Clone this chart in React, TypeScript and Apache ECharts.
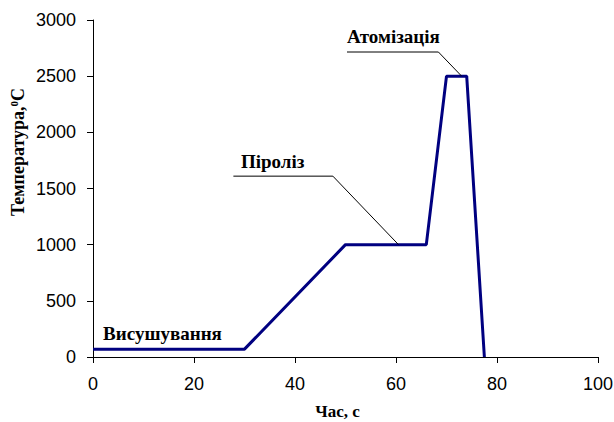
import React, { useEffect, useRef } from "react";
import * as echarts from "echarts";

const timeValues = [0, 30, 50, 66, 70, 74, 77.5];
const tempValues = [70, 70, 1000, 1000, 2500, 2500, 0];
const xTicks = [0, 20, 40, 60, 80, 100];
const yTicks = [0, 500, 1000, 1500, 2000, 2500, 3000];
const pyrolysisLeader = [[27.8, 1610], [47.5, 1610], [60.5, 1000]];
const atomLeader = [[50.3, 2715], [68.4, 2715], [73, 2500]];
const stageNames = ["Висушування", "Піроліз", "Атомізація"];
const stageAnchors = [[2, 205], [29.3, 1740], [50.3, 2850]];

export default function App() {
  const ref = useRef<HTMLDivElement>(null);
  useEffect(() => {
    document.body.style.margin = "0";
    const chart = echarts.init(ref.current!, null, { renderer: "svg" });
    const axisText = { color: "#000", fontFamily: "Liberation Sans, Arial, sans-serif", fontSize: 18 };
    const serifBold = { fill: "#000", fontFamily: "Liberation Serif", fontWeight: "bold" };
    chart.setOption({
      animation: false,
      backgroundColor: "#fff",
      grid: { left: 93, right: 16, top: 20, bottom: 65, containLabel: false, outerBoundsMode: "none" },
      xAxis: {
        type: "value",
        min: 0,
        max: 100,
        interval: 20,
        name: "Час, с",
        nameLocation: "middle",
        nameGap: 46,
        nameTextStyle: {
          color: "#000",
          fontFamily: "Liberation Serif",
          fontWeight: "bold",
          fontSize: 17,
          padding: [0, 16, 0, 0],
        },
        axisLine: { show: true, lineStyle: { color: "#000", width: 1 } },
        axisTick: { show: true, length: 6, lineStyle: { color: "#000" } },
        axisLabel: { ...axisText, margin: 18, formatter: (v: number) => (xTicks.includes(v) ? String(v) : "") },
        splitLine: { show: false },
      },
      yAxis: {
        type: "value",
        min: 0,
        max: 3000,
        interval: 500,
        axisLine: { show: true, lineStyle: { color: "#000", width: 1 } },
        axisTick: { show: true, length: 6, lineStyle: { color: "#000" } },
        axisLabel: { ...axisText, margin: 17, formatter: (v: number) => (yTicks.includes(v) ? String(v) : "") },
        splitLine: { show: false },
      },
      series: [
        {
          type: "line",
          data: timeValues.map((t, i) => [t, tempValues[i]]),
          symbol: "none",
          lineStyle: { color: "#000080", width: 3 },
          z: 3,
        },
        {
          type: "line",
          data: pyrolysisLeader,
          symbol: "none",
          lineStyle: { color: "#000", width: 1 },
        },
        {
          type: "line",
          data: atomLeader,
          symbol: "none",
          lineStyle: { color: "#000", width: 1 },
        },
      ],
    });
    const texts: any[] = stageNames.map((name, i) => {
      const [px, py] = chart.convertToPixel({ gridIndex: 0 }, stageAnchors[i]) as number[];
      return {
        type: "text",
        x: px,
        y: py,
        style: { ...serifBold, text: name, fontSize: 19, textAlign: "left", textVerticalAlign: "middle" },
        z: 10,
      };
    });
    texts.push({
      type: "text",
      x: 18,
      y: 152,
      rotation: Math.PI / 2,
      style: {
        text: "{a|Температура,}{b|0}{a|C}",
        textAlign: "center",
        textVerticalAlign: "middle",
        rich: {
          a: { ...serifBold, fontSize: 18 },
          b: { ...serifBold, fontSize: 11, verticalAlign: "top", padding: [0, 0, 8, 0] },
        },
      },
    });
    chart.setOption({ graphic: texts });
    return () => chart.dispose();
  }, []);
  return <div ref={ref} style={{ width: 614, height: 422 }} />;
}
